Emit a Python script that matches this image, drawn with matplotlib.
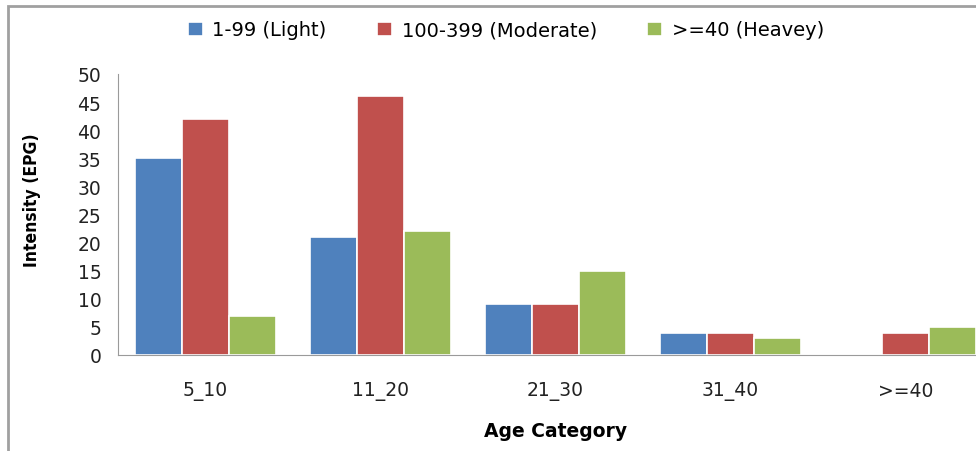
import matplotlib.pyplot as plt
import numpy as np
from matplotlib.patches import Rectangle

# intensity by age category
categorias = ['5_10', '11_20', '21_30', '31_40', '>=40']
light = [35, 21, 9, 4, 0]
moderate = [42, 46, 9, 4, 4]
heavy = [7, 22, 15, 3, 5]
series = ['1-99 (Light)', '100-399 (Moderate)', '>=40 (Heavey)']
cores = ['#4f81bd', '#c0504d', '#9bbb59']

fig = plt.figure(figsize=(9.76, 4.52), dpi=100)
ax = fig.add_axes([118/976, 96/452, 875/976, 281/452])

x = np.arange(len(categorias))
w = 0.27
for i, (vals, nome, c) in enumerate(zip([light, moderate, heavy], series, cores)):
    ax.bar(x + (i - 1) * w, vals, w, color=c, edgecolor='white', linewidth=1.2, label=nome)

ax.set_xlim(-0.5, 4.5)
ax.set_ylim(0, 50)
ax.set_yticks(range(0, 51, 5))
ax.set_xticks(x, categorias)
ax.tick_params(axis='y', length=0, pad=12, labelsize=13.5, colors='#222222')
ax.tick_params(axis='x', length=0, pad=19, labelsize=13.5, colors='#222222')
for s in ['top', 'right']:
    ax.spines[s].set_visible(False)
for s in ['left', 'bottom']:
    ax.spines[s].set_color('#9a9a9a')

ax.set_xlabel('Age Category', fontsize=13.5, fontweight='bold', labelpad=15)
fig.text(32/976, 1 - 200/452, 'Intensity (EPG)', rotation=90, fontsize=12.5,
         fontweight='bold', ha='center', va='center', fontstretch='condensed')

fig.legend(loc='center', bbox_to_anchor=(506/976, 1 - 31/452), ncol=3, frameon=False,
           fontsize=14, handlelength=0.75, handleheight=0.75, columnspacing=2.6, handletextpad=0.5)

# gray frame of the original chart area
fig.patches.append(Rectangle((8/976, -0.1), 1.2, 1 - 7/452 + 0.1, transform=fig.transFigure,
                             fill=False, edgecolor='#a0a0a0', linewidth=2))

fig.savefig('out.png', dpi=100)
